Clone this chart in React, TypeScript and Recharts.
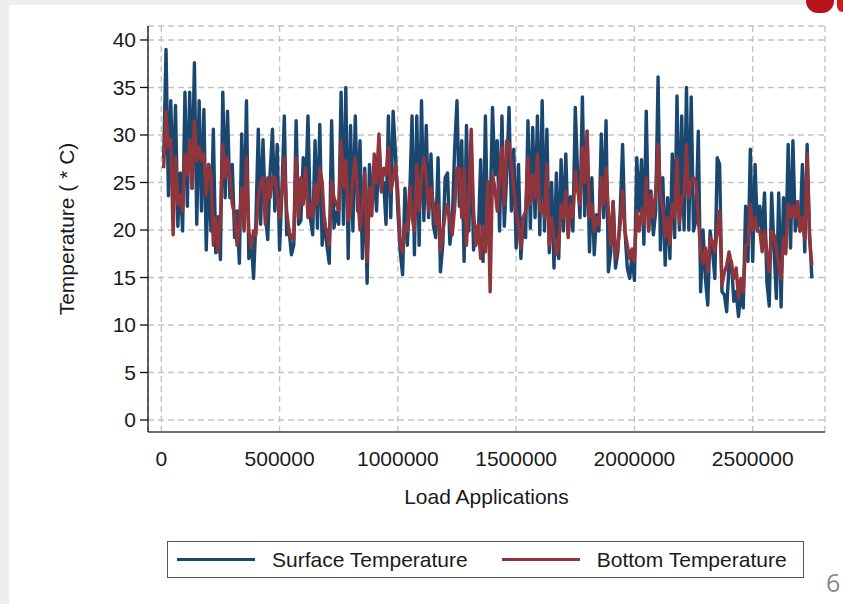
import { LineChart, Line, XAxis, YAxis, CartesianGrid } from 'recharts';

// Temperature log vs. load applications (slide 6)
// readings are sampled every 10,000 load applications, first at 10,000

const FONT = '"Liberation Sans", Arial, Helvetica, sans-serif';
const LOAD_STEP = 10000;

const surfaceTemp = [
  27.5, 39.0, 23.6, 33.6, 24.4, 33.1, 20.4, 26.0, 19.9, 34.5, 22.5, 34.5, 24.4, 37.6, 20.6, 33.6, 22.0, 32.7, 17.9, 26.9,
  19.9, 30.6, 17.6, 21.4, 16.9, 34.5, 23.4, 32.5, 23.4, 26.9, 19.2, 22.0, 16.5, 30.1, 20.2, 33.6, 17.0, 19.2, 14.9,
  21.0, 30.6, 20.6, 29.5, 21.5, 19.0, 26.0, 30.6, 22.0, 29.0, 17.9, 24.0, 32.0, 19.5, 20.0, 17.4, 18.4, 31.5, 20.6, 21.0,
  27.6, 23.5, 32.0, 21.3, 19.5, 29.4, 20.2, 31.1, 18.4, 21.3, 18.4, 16.5, 31.5, 20.2, 21.9, 20.6, 34.5, 20.6, 35.0,
  17.0, 31.0, 19.9, 32.0, 22.0, 29.4, 17.0, 26.5, 14.4, 26.9, 22.8, 26.0, 22.0, 29.4, 24.4, 25.0, 20.6, 32.0, 21.3, 32.5,
  28.0, 22.0, 17.7, 15.3, 24.4, 18.4, 23.4, 32.0, 17.4, 32.0, 18.4, 33.6, 21.0, 31.0, 21.3, 28.0, 20.5, 19.2, 27.6, 15.6,
  18.5, 25.5, 26.0, 18.5, 20.8, 28.5, 33.6, 22.5, 29.4, 16.7, 31.0, 19.9, 29.0, 17.9, 20.0, 19.2, 27.4, 16.7, 32.0, 19.2,
  21.5, 32.9, 25.8, 29.4, 19.9, 32.0, 20.4, 25.8, 32.9, 22.0, 28.5, 18.1, 26.9, 17.0, 21.3, 19.2, 31.5, 20.2, 30.8, 21.3,
  32.0, 19.5, 33.6, 19.9, 30.6, 17.6, 25.0, 16.0, 26.0, 17.0, 27.4, 19.9, 28.0, 19.5, 23.5, 19.9, 32.9, 25.8, 21.3, 34.0,
  21.5, 30.4, 17.7, 25.5, 17.4, 21.6, 19.9, 30.1, 21.3, 31.5, 15.6, 17.7, 23.0, 16.0, 17.7, 22.0, 29.0, 19.9, 16.0,
  14.9, 17.5, 14.7, 27.6, 22.0, 27.4, 18.5, 32.5, 19.9, 24.1, 19.5, 22.0, 36.1, 17.9, 25.5, 16.3, 23.4, 17.0, 28.0, 19.2,
  34.1, 20.0, 32.0, 20.0, 35.0, 20.0, 34.0, 19.9, 21.0, 30.4, 13.5, 20.0, 14.9, 12.1, 19.9, 17.9, 14.9, 27.6, 26.9, 13.5,
  13.2, 11.4, 16.5, 16.7, 12.5, 13.5, 10.9, 13.5, 11.8, 22.5, 16.7, 28.5, 16.7, 26.9, 19.9, 22.5, 19.5, 23.9, 14.5, 12.0,
  23.9, 18.0, 12.8, 23.9, 11.9, 23.4, 18.1, 29.0, 18.1, 29.4, 19.9, 22.0, 19.9, 26.9, 17.7, 29.0, 19.9, 14.9,
];

const bottomTemp = [
  26.5, 32.5, 28.7, 29.5, 19.5, 27.6, 22.7, 23.7, 22.0, 28.0, 25.8, 29.5, 24.4, 31.5, 27.3, 28.7, 27.3, 28.0, 23.7, 26.9,
  25.8, 18.4, 21.3, 17.7, 21.3, 29.0, 25.5, 27.6, 25.8, 22.7, 21.6, 18.4, 20.6, 24.4, 19.9, 27.6, 19.9, 18.1, 19.9,
  19.5, 23.4, 25.1, 25.5, 20.6, 25.5, 23.4, 25.5, 25.5, 23.7, 21.3, 24.0, 27.6, 22.0, 19.9, 19.2, 19.0, 27.6, 21.3, 25.5,
  22.7, 26.5, 21.3, 22.7, 21.3, 24.8, 22.7, 26.5, 25.1, 20.6, 19.9, 18.4, 25.1, 23.4, 22.7, 22.0, 29.4, 24.5, 27.3,
  21.0, 22.0, 25.5, 27.6, 23.7, 20.0, 22.7, 26.0, 16.7, 24.4, 21.5, 28.0, 25.0, 30.1, 24.0, 26.5, 25.8, 28.7, 24.0, 25.3,
  26.9, 24.0, 18.8, 17.7, 20.6, 19.9, 24.5, 21.3, 19.9, 26.9, 22.0, 25.8, 27.6, 25.5, 22.0, 24.4, 22.7, 20.6, 22.7, 17.7,
  19.9, 21.6, 22.7, 21.0, 19.5, 22.3, 26.5, 26.5, 21.3, 26.5, 18.4, 23.0, 30.6, 22.0, 18.4, 20.6, 17.0, 20.4, 17.7, 25.1,
  13.5, 25.8, 24.5, 22.0, 25.5, 28.7, 22.7, 29.4, 29.0, 26.9, 24.4, 22.0, 20.5, 18.1, 21.3, 22.0, 27.6, 22.7, 25.8, 23.4,
  28.0, 22.0, 22.7, 21.3, 26.9, 18.4, 21.3, 19.2, 17.4, 18.4, 22.6, 21.3, 24.1, 19.2, 22.7, 21.3, 26.2, 24.1, 22.7, 28.7,
  25.0, 30.4, 21.3, 22.7, 19.9, 21.3, 20.6, 25.5, 22.7, 26.5, 22.0, 18.4, 23.0, 17.0, 18.4, 20.6, 24.1, 19.9, 18.4,
  17.0, 18.0, 16.7, 22.0, 19.9, 22.0, 20.6, 25.5, 19.9, 23.7, 21.3, 24.0, 29.0, 23.7, 22.3, 19.2, 21.3, 18.5, 22.7, 21.3,
  27.6, 20.6, 23.4, 23.7, 29.0, 23.4, 25.0, 25.5, 25.1, 21.3, 17.7, 16.5, 18.1, 15.6, 19.2, 18.8, 17.7, 19.9, 22.0, 14.2,
  15.5, 16.3, 17.7, 16.5, 14.9, 16.0, 12.8, 14.9, 13.5, 18.4, 18.4, 22.7, 20.0, 21.3, 19.9, 19.9, 17.7, 19.9, 17.7, 15.6,
  19.9, 19.5, 18.0, 16.3, 14.9, 19.2, 17.5, 22.7, 21.3, 22.5, 21.3, 23.0, 19.9, 21.3, 19.0, 28.0, 19.2, 16.3,
];

const xTicks = [0, 500000, 1000000, 1500000, 2000000, 2500000];
const yTicks = [0, 5, 10, 15, 20, 25, 30, 35, 40];

const series = [
  { key: 'surface', name: 'Surface Temperature', color: '#1a476f' },
  { key: 'bottom', name: 'Bottom Temperature', color: '#90353b' },
];

const data = surfaceTemp.map((surface, i) => ({
  load: (i + 1) * LOAD_STEP,
  surface,
  bottom: bottomTemp[i],
}));

const tickStyle = { fill: '#1a1a1a', fontSize: 21, fontFamily: FONT };

function XTitle({ viewBox }: any) {
  return (
    <text
      x={viewBox.x + viewBox.width / 2}
      y={viewBox.y + 72}
      textAnchor="middle"
      fontSize={21}
      fontFamily={FONT}
      fill="#1a1a1a"
    >
      Load Applications
    </text>
  );
}

function YTitle({ viewBox }: any) {
  const cx = viewBox.x + 74;
  const cy = viewBox.y + viewBox.height / 2;
  return (
    <text
      transform={`translate(${cx}, ${cy}) rotate(-90)`}
      textAnchor="middle"
      fontSize={21}
      fontFamily={FONT}
      fill="#1a1a1a"
    >
      Temperature ( * C)
    </text>
  );
}

export default function App() {
  return (
    <div
      style={{
        position: 'relative',
        width: 843,
        height: 604,
        background: '#eeeeee',
        overflow: 'hidden',
        fontFamily: FONT,
      }}
    >
      <style>{'body { margin: 0; }'}</style>
      <div style={{ position: 'absolute', left: 9, top: 5, right: 0, bottom: 0, background: '#ffffff' }} />
      {/* slide decoration, top right */}
      <div
        style={{
          position: 'absolute',
          left: 806,
          top: -10,
          width: 28,
          height: 23,
          borderRadius: '0 0 12px 12px',
          background: '#b5121b',
        }}
      />
      <div
        style={{
          position: 'absolute',
          left: 837,
          top: -10,
          width: 12,
          height: 22,
          borderRadius: '0 0 6px 6px',
          background: '#d0161f',
        }}
      />

      <LineChart
        width={843}
        height={604}
        data={data}
        margin={{ top: 26, right: 18, bottom: 0, left: 0 }}
        style={{ position: 'absolute', left: 0, top: 0 }}
      >
        <CartesianGrid stroke="#c4c4c4" strokeWidth={1.4} strokeDasharray="6 4" />
        <XAxis
          type="number"
          dataKey="load"
          domain={[-56200, 2805600]}
          ticks={xTicks}
          interval={0}
          allowDataOverflow
          height={172}
          tickLine={false}
          tickSize={6}
          tickMargin={13}
          axisLine={{ stroke: '#6e6e6e', strokeWidth: 2 }}
          tick={tickStyle}
          label={<XTitle />}
        />
        <YAxis
          type="number"
          domain={[-1.26, 41.47]}
          ticks={yTicks}
          interval={0}
          allowDataOverflow
          width={148}
          tickSize={8}
          tickMargin={4}
          axisLine={{ stroke: '#111111', strokeWidth: 1.3 }}
          tickLine={{ stroke: '#111111', strokeWidth: 1.3 }}
          tick={tickStyle}
          label={<YTitle />}
        />
        {series.map((s) => (
          <Line
            key={s.key}
            type="linear"
            dataKey={s.key}
            name={s.name}
            stroke={s.color}
            strokeWidth={3.4}
            strokeLinejoin="round"
            dot={false}
            isAnimationActive={false}
          />
        ))}
      </LineChart>

      {/* legend */}
      <div
        style={{
          position: 'absolute',
          left: 167,
          top: 541,
          width: 637,
          height: 37,
          boxSizing: 'border-box',
          border: '1.5px solid #555555',
          background: '#ffffff',
          display: 'flex',
          alignItems: 'center',
          paddingLeft: 9,
          fontSize: 21,
          color: '#1a1a1a',
        }}
      >
        {series.map((s, i) => (
          <div key={s.key} style={{ display: 'flex', alignItems: 'center', marginLeft: i === 0 ? 0 : 34 }}>
            <div style={{ width: 78, height: 3, background: s.color, marginRight: 17 }} />
            <span>{s.name}</span>
          </div>
        ))}
      </div>

      <div
        style={{
          position: 'absolute',
          left: 826,
          top: 565,
          fontSize: 25,
          color: '#8a8a8a',
          fontFamily: '"Open Sans", sans-serif',
        }}
      >
        6
      </div>
    </div>
  );
}
